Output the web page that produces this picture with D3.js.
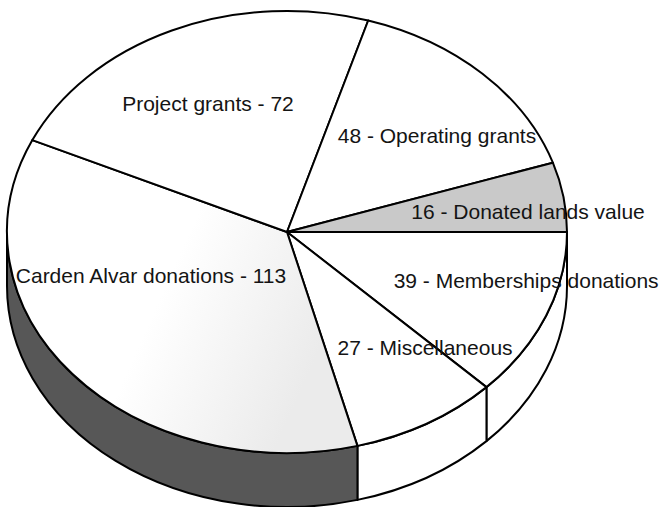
<!DOCTYPE html>
<html>
<head>
<meta charset="utf-8">
<script src="https://cdn.jsdelivr.net/npm/d3@7"></script>
<style>
    body { margin: 0; background: #fff; }
    text { font-family: "Liberation Sans", Arial, sans-serif; font-size: 21px; fill: #141414; }
</style>
</head>
<body>
<div id="pie"></div>
<script>
// slices listed clockwise, starting at 3 o'clock
const categories = ["Memberships donations", "Miscellaneous", "Carden Alvar donations",
                    "Project grants", "Operating grants", "Donated lands value"];
const values = [39, 27, 113, 72, 48, 16];
const labels = ["39 - Memberships donations", "27 - Miscellaneous", "Carden Alvar donations - 113",
                "Project grants - 72", "48 - Operating grants", "16 - Donated lands value"];

class PieChart3D {
    constructor() {
        this.width = 660;
        this.height = 507;
        this.cx = 287;
        this.cy = 232;
        this.rx = 280;
        this.ry = 221;
        this.depth = 54;
        this.topFill = ["#ffffff", "#ffffff", "url(#cardenTop)", "#ffffff", "#ffffff", "#c9c9c9"];
        this.sideFill = ["#ffffff", "#ffffff", "#575757", "#ffffff", "#ffffff", "#ffffff"];
        // label spot as fraction of the radii, along the slice's middle angle
        this.labelSpot = [[0.923, 0.585], [0.986, 0.606], [0.634, 0.31],
                          [0.686, 0.636], [0.767, 0.607], [0.872, 0.57]];
        this.draw();
    }

    pt(a, dy) {
        return [this.cx + this.rx * Math.sin(a), this.cy - this.ry * Math.cos(a) + (dy || 0)];
    }

    arcTo(a0, a1, dy, sweep) {
        let p = this.pt(sweep ? a1 : a0, dy);
        let large = Math.abs(a1 - a0) > Math.PI ? 1 : 0;
        return `A${this.rx},${this.ry} 0 ${large} ${sweep} ${p[0]},${p[1]}`;
    }

    draw() {
        let that = this;
        let svg = d3.select('#pie').append('svg')
            .attr('width', this.width)
            .attr('height', this.height);

        let grad = svg.append('defs').append('linearGradient')
            .attr('id', 'cardenTop')
            .attr('x1', 0).attr('x2', 1).attr('y1', 0).attr('y2', 0.4);
        grad.append('stop').attr('offset', 0.55).attr('stop-color', '#ffffff');
        grad.append('stop').attr('offset', 1).attr('stop-color', '#ebebeb');

        let pie = d3.pie().sort(null)
            .startAngle(Math.PI / 2)
            .endAngle(Math.PI / 2 + 2 * Math.PI);
        let arcs = pie(values);

        // side walls, only the front half is visible
        let front = [Math.PI / 2, 3 * Math.PI / 2];
        let sides = arcs.map((d, i) => {
            let a0 = Math.max(d.startAngle, front[0]);
            let a1 = Math.min(d.endAngle, front[1]);
            return {i: i, a0: a0, a1: a1};
        }).filter(s => s.a1 > s.a0);

        svg.append('g').selectAll('path').data(sides).join('path')
            .attr('d', s => {
                let p0 = that.pt(s.a0, 0);
                let p1 = that.pt(s.a1, that.depth);
                return `M${p0[0]},${p0[1]}` + that.arcTo(s.a0, s.a1, 0, 1) +
                    `L${p1[0]},${p1[1]}` + that.arcTo(s.a0, s.a1, that.depth, 0) + 'Z';
            })
            .attr('fill', s => that.sideFill[s.i])
            .attr('stroke', '#000')
            .attr('stroke-width', 2)
            .attr('stroke-linejoin', 'round');

        // top face
        svg.append('g').selectAll('path').data(arcs).join('path')
            .attr('d', d => {
                let p0 = that.pt(d.startAngle, 0);
                return `M${that.cx},${that.cy}L${p0[0]},${p0[1]}` +
                    that.arcTo(d.startAngle, d.endAngle, 0, 1) + 'Z';
            })
            .attr('fill', (d, i) => that.topFill[i])
            .attr('stroke', '#000')
            .attr('stroke-width', 2)
            .attr('stroke-linejoin', 'round');

        // labels
        svg.append('g').selectAll('text').data(arcs).join('text')
            .attr('x', (d, i) => {
                let mid = (d.startAngle + d.endAngle) / 2;
                return that.cx + that.rx * that.labelSpot[i][0] * Math.sin(mid);
            })
            .attr('y', (d, i) => {
                let mid = (d.startAngle + d.endAngle) / 2;
                return that.cy - that.ry * that.labelSpot[i][1] * Math.cos(mid);
            })
            .attr('dy', '0.35em')
            .attr('text-anchor', 'middle')
            .text((d, i) => labels[i]);
    }
}

new PieChart3D();
</script>
</body>
</html>
